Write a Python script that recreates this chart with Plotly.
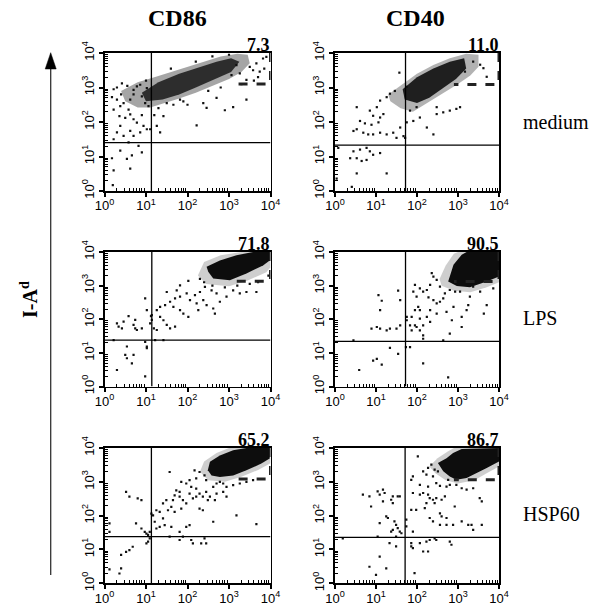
import plotly.graph_objects as go

# ---------------- data (log10 fluorescence units) ----------------
markers = ["CD86", "CD40"]
treatments = ["medium", "LPS", "HSP60"]
percent_labels = ["7.3", "11.0", "71.8", "90.5", "65.2", "86.7"]

# quadrant cut positions
quad_x_log = [1.13, 1.72, 1.14, 1.72, 1.13, 1.71]
quad_y_log = [1.40, 1.33, 1.38, 1.34, 1.38, 1.36]
# dashed gate (lower-left corner, upper-right is 10^4, 10^4)
gate_x_log = [3.16, 2.90, 3.15, 2.90, 3.15, 2.90]
gate_y_log = [3.10, 3.09, 3.13, 3.12, 3.08, 3.06]

tick_decades = [0, 1, 2, 3, 4]
tick_labels = ["10<sup>0</sup>", "10<sup>1</sup>", "10<sup>2</sup>", "10<sup>3</sup>", "10<sup>4</sup>"]

# dense-population outlines (halo = moderately dense, core = very dense)
halo_medium_cd86 = [(0.4, 2.9), (0.8, 3.15), (1.2, 3.3), (1.6, 3.45), (2.0, 3.6), (2.4, 3.75), (2.8, 3.9),
                    (3.2, 3.98), (3.45, 3.95), (3.5, 3.7), (3.3, 3.45), (3.0, 3.25), (2.6, 3.05), (2.2, 2.85),
                    (1.8, 2.68), (1.4, 2.52), (1.1, 2.42), (0.8, 2.42), (0.5, 2.6)]
core_medium_cd86 = [(0.9, 2.85), (1.3, 3.15), (1.8, 3.4), (2.3, 3.6), (2.7, 3.75), (3.05, 3.85), (3.25, 3.75),
                    (3.05, 3.45), (2.6, 3.2), (2.2, 3.0), (1.8, 2.8), (1.4, 2.65), (1.0, 2.6)]
halo_medium_cd40 = [(1.3, 2.8), (1.6, 3.05), (2.0, 3.4), (2.4, 3.65), (2.8, 3.85), (3.2, 3.98), (3.5, 3.95),
                    (3.5, 3.6), (3.3, 3.35), (3.0, 3.1), (2.6, 2.8), (2.2, 2.5), (1.9, 2.3), (1.6, 2.4),
                    (1.35, 2.6)]
core_medium_cd40 = [(1.65, 2.95), (2.0, 3.3), (2.4, 3.55), (2.8, 3.75), (3.15, 3.85), (3.2, 3.55), (2.95, 3.25),
                    (2.6, 2.95), (2.3, 2.7), (2.0, 2.55), (1.7, 2.65)]
halo_lps_cd86 = [(2.25, 3.3), (2.45, 3.05), (3.0, 2.98), (3.45, 3.15), (3.9, 3.4), (4.0, 3.55), (4.0, 4.0),
                 (3.3, 4.0), (2.8, 3.9), (2.4, 3.7)]
core_lps_cd86 = [(2.50, 3.41), (2.62, 3.21), (3.02, 3.16), (3.42, 3.36), (3.82, 3.60), (3.98, 3.75),
                 (3.98, 4.0), (3.58, 4.0), (3.18, 3.90), (2.78, 3.75), (2.46, 3.56)]
halo_lps_cd40 = [(2.55, 3.2), (2.7, 3.6), (2.9, 3.95), (3.0, 4.0), (4.0, 4.0), (4.0, 3.1), (3.7, 2.95),
                 (3.3, 2.8), (2.9, 2.85), (2.6, 3.0)]
core_lps_cd40 = [(2.80, 3.27), (2.89, 3.62), (3.09, 3.92), (3.21, 4.0), (4.0, 4.0), (4.0, 3.27), (3.70, 3.12),
                 (3.29, 2.95), (2.97, 2.99), (2.76, 3.12)]
halo_hsp_cd86 = [(2.3, 3.3), (2.4, 3.6), (2.7, 3.85), (3.0, 4.0), (4.0, 4.0), (4.0, 3.55), (3.7, 3.35),
                 (3.3, 3.15), (2.9, 3.0), (2.5, 3.05)]
core_hsp_cd86 = [(2.49, 3.34), (2.54, 3.59), (2.78, 3.78), (3.10, 3.93), (3.42, 4.0), (3.98, 4.0),
                 (3.98, 3.69), (3.78, 3.54), (3.42, 3.34), (3.10, 3.19), (2.78, 3.14), (2.58, 3.19)]
halo_hsp_cd40 = [(2.3, 3.45), (2.5, 3.7), (2.75, 3.9), (2.9, 4.0), (4.0, 4.0), (4.0, 3.45), (3.7, 3.25),
                 (3.4, 3.05), (3.0, 2.95), (2.7, 3.05), (2.45, 3.25)]
core_hsp_cd40 = [(2.51, 3.56), (2.72, 3.70), (2.88, 3.85), (3.09, 3.97), (4.0, 4.0), (4.0, 3.60), (3.70, 3.41),
                 (3.45, 3.26), (3.21, 3.11), (2.96, 3.06), (2.80, 3.16), (2.64, 3.31)]

# individual events outside the dense populations
dots_medium_cd86 = [
    (0.22, 2.95), (0.42, 3.12), (0.18, 2.72), (0.30, 2.65), (0.38, 2.46), (0.46, 2.55), (0.58, 2.36),
    (0.22, 2.36), (0.36, 2.17), (0.50, 2.12), (0.62, 2.22), (0.70, 2.08), (0.78, 1.98), (0.94, 1.89),
    (1.02, 1.79), (0.86, 1.70), (0.62, 1.74), (0.38, 1.89), (0.30, 1.70), (0.46, 1.60), (0.70, 1.60),
    (0.22, 1.50), (0.58, 1.41), (0.82, 1.31), (0.90, 1.12), (0.66, 1.03), (0.54, 0.93), (0.38, 1.17),
    (0.18, 0.95), (0.22, 0.60), (0.62, 0.65), (0.20, 0.17), (1.10, 1.79), (1.34, 1.70), (1.26, 1.89),
    (1.42, 2.17), (1.50, 2.55), (2.22, 1.90), (2.90, 2.34), (3.10, 2.43), (3.42, 2.65), (2.46, 2.41),
    (2.38, 2.55), (1.82, 2.65), (1.66, 2.50), (3.50, 3.60), (3.58, 3.50), (3.74, 3.46), (3.82, 3.84),
    (3.90, 3.89), (3.66, 3.70), (3.26, 3.41), (3.06, 3.36), (3.18, 3.65), (3.42, 3.22), (0.62, 2.65),
    (0.70, 2.93), (0.78, 3.03), (0.86, 3.08), (1.02, 2.98), (0.90, 2.74), (0.98, 2.55), (1.06, 2.46),
    (1.3, 2.4), (1.9, 2.6), (2.5, 2.9), (2.8, 3.0), (3.3, 3.1), (0.7, 2.8), (0.4, 2.8), (1.0, 3.2),
    (1.6, 3.55), (2.2, 3.75), (2.6, 3.9), (3.0, 3.95), (0.9, 2.2), (1.2, 2.2), (0.3, 3.0), (0.55, 3.05),
    (2.0, 2.5), (2.7, 2.7), (3.6, 3.2), (3.7, 3.3), (3.85, 3.55)]
dots_medium_cd40 = [
    (1.57, 3.43), (1.34, 2.82), (1.46, 2.90), (1.26, 2.72), (1.10, 2.62), (1.02, 2.43), (0.53, 2.43),
    (0.85, 2.33), (0.93, 2.18), (1.10, 2.13), (1.18, 2.23), (1.06, 1.99), (0.89, 1.92), (0.73, 1.96),
    (0.61, 2.03), (0.53, 1.79), (0.45, 1.74), (0.69, 1.69), (0.81, 1.64), (0.93, 1.64), (1.10, 1.69),
    (1.26, 1.64), (1.42, 1.69), (1.59, 1.84), (1.50, 1.54), (1.67, 1.59), (1.75, 1.99), (1.91, 2.03),
    (2.07, 2.13), (2.24, 1.84), (2.40, 1.64), (2.48, 2.23), (2.64, 2.28), (2.80, 2.33), (2.96, 2.38),
    (3.05, 2.43), (0.45, 1.15), (0.61, 1.20), (0.77, 1.25), (0.85, 1.15), (0.93, 1.05), (1.10, 1.10),
    (0.53, 0.95), (0.65, 0.87), (0.77, 0.90), (0.08, 1.25), (0.37, 0.95), (0.53, 0.51), (1.26, 0.51),
    (0.41, 0.12), (0.04, 0.36), (1.75, 3.02), (1.83, 2.33), (1.99, 2.43), (2.48, 2.43), (3.37, 3.75),
    (3.62, 3.56), (3.70, 3.31), (3.54, 3.66), (3.17, 3.46), (1.71, 1.54)]
dots_lps_cd86 = [
    (2.02, 3.14), (1.82, 3.01), (1.74, 2.86), (1.50, 2.81), (1.98, 2.77), (2.18, 2.72), (2.06, 2.57),
    (1.82, 2.67), (1.70, 2.62), (1.58, 2.52), (1.46, 2.42), (1.34, 2.37), (1.26, 2.27), (1.14, 2.12),
    (1.34, 2.07), (1.42, 1.97), (1.66, 2.37), (1.82, 2.27), (1.90, 2.17), (2.02, 2.07), (2.22, 2.47),
    (2.26, 2.27), (2.38, 2.57), (2.46, 2.42), (2.62, 2.32), (2.66, 2.17), (2.78, 2.52), (2.94, 2.67),
    (3.10, 2.86), (3.26, 2.77), (3.42, 2.81), (3.66, 2.81), (2.42, 2.96), (2.58, 2.86), (2.70, 2.77),
    (2.30, 2.81), (0.98, 2.62), (1.02, 2.27), (1.12, 2.09), (1.19, 1.73), (1.26, 1.68), (1.50, 1.83),
    (1.58, 1.73), (1.70, 1.78), (1.42, 1.38), (1.22, 1.38), (0.30, 1.88), (0.34, 1.78), (0.42, 1.73),
    (0.46, 1.93), (0.58, 2.09), (0.74, 1.98), (0.74, 1.73), (0.78, 1.68), (0.90, 1.73), (0.70, 1.83),
    (0.98, 1.33), (1.02, 1.19), (1.02, 1.14), (0.54, 1.19), (0.50, 0.94), (0.54, 0.84), (0.70, 0.94),
    (0.66, 0.69), (0.30, 0.49), (0.98, 0.30), (1.10, 1.88), (1.14, 1.98), (0.22, 1.38),
    (2.3, 3.2), (2.4, 3.1), (2.6, 3.0), (2.9, 2.95), (3.2, 3.0), (3.5, 3.05), (3.7, 3.1), (3.95, 3.3)]
dots_lps_cd40 = [
    (2.36, 3.37), (2.40, 3.27), (2.48, 3.17), (2.56, 2.97), (2.32, 3.02), (2.15, 2.82), (2.24, 2.87),
    (2.07, 2.92), (1.95, 3.02), (1.91, 2.82), (1.99, 2.67), (2.28, 2.65), (2.40, 2.57), (2.48, 2.47),
    (2.56, 2.52), (2.64, 2.62), (2.68, 2.77), (2.80, 2.87), (2.93, 2.82), (3.05, 2.82), (2.32, 2.27),
    (2.07, 2.27), (2.03, 2.37), (1.95, 2.27), (1.87, 2.07), (1.95, 1.82), (2.07, 2.02), (2.24, 2.07),
    (2.32, 1.92), (2.15, 1.82), (1.99, 1.77), (1.83, 1.82), (1.75, 1.97), (1.75, 2.07), (1.87, 1.67),
    (2.07, 1.67), (2.15, 1.52), (2.48, 2.17), (2.72, 2.22), (2.85, 1.97), (3.09, 2.07), (3.21, 2.27),
    (3.25, 2.42), (3.29, 2.67), (3.37, 2.97), (3.54, 2.82), (3.86, 2.92), (3.70, 2.42), (3.63, 2.17),
    (2.89, 2.37), (3.09, 1.77), (2.80, 1.57), (2.64, 1.37), (2.15, 1.42), (1.50, 1.72), (1.59, 1.82),
    (1.10, 1.72), (1.02, 1.77), (1.10, 2.27), (1.06, 2.72), (1.14, 2.55), (1.59, 2.57), (1.54, 2.85),
    (1.26, 1.67), (1.34, 1.72), (0.89, 1.72), (0.45, 1.37), (1.34, 1.15), (1.54, 0.97), (1.73, 1.17),
    (1.83, 1.17), (1.02, 0.82), (0.93, 0.77), (1.14, 0.65), (0.59, 0.49), (2.15, 0.69), (2.76, 0.27)]
dots_hsp_cd86 = [
    (1.57, 3.29), (2.17, 3.34), (2.29, 3.29), (2.41, 3.19), (2.45, 3.05), (2.21, 3.10), (2.05, 3.05),
    (1.97, 2.95), (1.85, 3.00), (2.09, 2.85), (2.21, 2.80), (2.29, 2.65), (2.45, 2.70), (2.62, 2.85),
    (2.70, 2.95), (2.78, 3.00), (2.86, 2.95), (2.94, 2.85), (3.10, 2.90), (3.26, 2.95), (3.42, 3.00),
    (3.58, 3.05), (2.86, 2.70), (2.70, 2.65), (2.54, 2.56), (2.37, 2.56), (2.21, 2.56), (2.13, 2.51),
    (2.05, 2.65), (1.81, 2.70), (1.73, 2.75), (1.69, 2.60), (1.81, 2.56), (1.89, 2.46), (1.65, 2.46),
    (1.49, 2.46), (1.41, 2.36), (1.61, 2.26), (1.53, 2.16), (1.69, 2.11), (1.85, 2.21), (1.97, 2.36),
    (2.29, 2.21), (2.37, 2.16), (2.49, 2.46), (2.66, 2.46), (2.94, 2.56), (3.18, 2.01), (3.66, 1.75),
    (2.62, 1.82), (1.97, 1.67), (2.05, 1.72), (1.61, 1.67), (1.45, 1.72), (1.33, 1.67), (1.25, 1.62),
    (1.21, 1.82), (1.17, 2.01), (1.13, 2.06), (1.25, 2.16), (1.33, 2.11), (1.41, 1.92), (0.52, 2.70),
    (0.60, 2.56), (0.80, 2.51), (0.89, 2.46), (0.12, 1.77), (0.76, 1.77), (0.89, 1.62), (0.97, 1.52),
    (1.01, 1.47), (1.05, 1.43), (1.09, 1.33), (1.05, 1.23), (1.01, 1.18), (1.57, 1.38), (1.81, 1.28),
    (1.89, 1.38), (2.09, 1.28), (2.13, 1.18), (2.33, 1.18), (2.41, 1.33), (2.45, 1.18), (0.68, 1.08),
    (0.60, 0.98), (0.52, 0.93), (0.40, 0.84), (0.12, 1.52), (0.40, 0.44), (0.36, 0.29), (0.12, 0.41),
    (1.09, 1.52), (1.81, 1.52)]
dots_hsp_cd40 = [
    (2.02, 3.75), (2.15, 3.31), (2.23, 3.21), (2.27, 3.41), (2.35, 3.51), (2.43, 3.36), (2.51, 3.31),
    (2.39, 3.16), (1.90, 3.16), (1.86, 3.06), (2.07, 2.91), (2.27, 2.86), (2.47, 2.96), (2.56, 2.88),
    (2.72, 2.86), (2.80, 2.91), (3.09, 2.81), (3.37, 2.81), (3.21, 2.77), (2.76, 3.06), (2.96, 2.91),
    (3.53, 2.52), (3.58, 2.42), (1.90, 2.67), (2.07, 2.62), (2.15, 2.67), (2.27, 2.62), (2.31, 2.52),
    (2.39, 2.47), (2.47, 2.52), (2.60, 2.47), (2.68, 2.57), (2.23, 2.37), (2.43, 2.37), (2.56, 2.07),
    (2.60, 1.98), (2.72, 1.93), (2.92, 2.27), (2.19, 2.22), (1.98, 2.17), (1.86, 2.17), (1.74, 1.88),
    (1.74, 1.68), (1.90, 1.53), (2.31, 1.93), (2.39, 1.83), (2.56, 1.73), (2.72, 1.73), (2.88, 1.73),
    (3.09, 1.83), (3.25, 1.73), (3.33, 1.73), (3.37, 1.58), (3.58, 1.73), (0.68, 2.62), (0.84, 2.57),
    (0.88, 2.27), (1.04, 2.72), (1.09, 2.62), (1.17, 2.77), (1.21, 2.67), (1.17, 2.42), (1.41, 2.57),
    (1.37, 2.47), (1.41, 2.37), (1.53, 2.57), (1.58, 2.57), (1.25, 1.98), (1.29, 1.93), (1.45, 1.83),
    (1.49, 1.73), (1.41, 1.58), (1.37, 1.53), (1.53, 1.63), (1.58, 1.53), (1.62, 1.48), (1.09, 1.78),
    (1.33, 1.19), (1.49, 1.09), (1.86, 1.19), (1.86, 1.09), (1.90, 1.04), (2.07, 1.19), (2.23, 1.23),
    (2.31, 1.28), (2.43, 1.33), (2.47, 1.28), (2.80, 1.23), (2.84, 1.14), (2.15, 0.94), (2.27, 0.94),
    (1.09, 0.79), (0.84, 0.49), (1.00, 0.25), (1.25, 0.44), (1.94, 0.30), (0.19, 1.33), (1.04, 1.38),
    (1.49, 1.38)]

panel_halos = [halo_medium_cd86, halo_medium_cd40, halo_lps_cd86, halo_lps_cd40, halo_hsp_cd86, halo_hsp_cd40]
panel_cores = [core_medium_cd86, core_medium_cd40, core_lps_cd86, core_lps_cd40, core_hsp_cd86, core_hsp_cd40]
panel_dots = [dots_medium_cd86, dots_medium_cd40, dots_lps_cd86, dots_lps_cd40, dots_hsp_cd86, dots_hsp_cd40]
halo_colors = ["rgba(30,30,30,0.40)", "rgba(30,30,30,0.34)", "rgba(30,30,30,0.22)",
               "rgba(30,30,30,0.22)", "rgba(30,30,30,0.22)", "rgba(30,30,30,0.22)"]
core_colors = ["rgba(15,15,15,0.80)", "rgba(10,10,10,0.88)", "rgba(5,5,5,0.96)",
               "rgba(5,5,5,0.96)", "rgba(5,5,5,0.96)", "rgba(5,5,5,0.96)"]

# ---------------- figure ----------------
W, H = 601, 608
col_px = [(104.5, 270.5), (335.0, 499.0)]
row_px = [(53.0, 191.0), (252.0, 386.5), (448.0, 583.3)]

SERIF = "Liberation Serif, Times New Roman, serif"
TICKFONT = dict(family="Liberation Sans Narrow, Arial Narrow, Liberation Sans, Arial, sans-serif",
                size=13, color="black")

def dec(v):
    return 10 ** v

fig = go.Figure()
layout = dict(width=W, height=H, margin=dict(l=0, r=0, t=0, b=0, autoexpand=False),
              paper_bgcolor="white", plot_bgcolor="white", showlegend=False)

minor_vals = [m * 10 ** d for d in range(4) for m in range(2, 10)]
annotations = []

for i in range(6):
    r, c = divmod(i, 2)
    n = i + 1
    xa, ya = ("x" if n == 1 else f"x{n}"), ("y" if n == 1 else f"y{n}")
    x0p, x1p = col_px[c]
    y0p, y1p = row_px[r]
    common = dict(type="log", range=[0, 4], showgrid=False, zeroline=False,
                  showline=True, linecolor="black", linewidth=1.6, mirror=True,
                  tickmode="array", tickvals=[dec(v) for v in tick_decades], ticktext=tick_labels,
                  ticks="outside", ticklen=4, tickwidth=2, tickcolor="black", tickfont=TICKFONT,
                  minor=dict(tickmode="array", tickvals=minor_vals, ticks="inside", ticklen=3,
                             tickwidth=1, tickcolor="black"))
    layout[f"xaxis{n}"] = dict(common, domain=[x0p / W, x1p / W], anchor=ya, ticklabelstandoff=-2)
    layout[f"yaxis{n}"] = dict(common, domain=[1 - y1p / H, 1 - y0p / H], anchor=xa, tickangle=-90)

    halo = panel_halos[i]
    core = panel_cores[i]
    dots = panel_dots[i]
    fig.add_trace(go.Scatter(x=[dec(p[0]) for p in halo], y=[dec(p[1]) for p in halo], xaxis=xa, yaxis=ya,
                             mode="lines", fill="toself", line=dict(width=0),
                             fillcolor=halo_colors[i], hoverinfo="skip"))
    fig.add_trace(go.Scatter(x=[dec(p[0]) for p in core], y=[dec(p[1]) for p in core], xaxis=xa, yaxis=ya,
                             mode="lines", fill="toself", line=dict(width=0),
                             fillcolor=core_colors[i], hoverinfo="skip"))
    fig.add_trace(go.Scatter(x=[dec(p[0]) for p in dots], y=[dec(p[1]) for p in dots], xaxis=xa, yaxis=ya,
                             mode="markers", marker=dict(size=2.2, symbol="square", color="#111"),
                             hoverinfo="skip"))
    # quadrant lines
    fig.add_trace(go.Scatter(x=[dec(quad_x_log[i])] * 2, y=[dec(0), dec(4)], xaxis=xa, yaxis=ya,
                             mode="lines", line=dict(color="black", width=1.3), hoverinfo="skip"))
    fig.add_trace(go.Scatter(x=[dec(0), dec(4)], y=[dec(quad_y_log[i])] * 2, xaxis=xa, yaxis=ya,
                             mode="lines", line=dict(color="black", width=1.3), hoverinfo="skip"))
    # dashed gate
    fig.add_trace(go.Scatter(x=[dec(4), dec(4), dec(gate_x_log[i])],
                             y=[dec(4), dec(gate_y_log[i]), dec(gate_y_log[i])], xaxis=xa, yaxis=ya,
                             mode="lines", line=dict(color="#222", width=3, dash="dash"), hoverinfo="skip"))
    annotations.append(dict(text=f"<b>{percent_labels[i]}</b>", xref=f"{xa} domain", yref=f"{ya} domain",
                            x=1.01, y=1.0, xanchor="right", yanchor="bottom", yshift=-4, showarrow=False,
                            font=dict(family=SERIF, size=18, color="black")))

for c, name in enumerate(markers):
    annotations.append(dict(text=f"<b>{name}</b>", xref="paper", yref="paper",
                            x=[177.5, 415.0][c] / W, y=1 - 17.5 / H, showarrow=False,
                            xanchor="center", yanchor="middle",
                            font=dict(family=SERIF, size=24, color="black")))
for r, name in enumerate(treatments):
    annotations.append(dict(text=name, xref="paper", yref="paper", x=521 / W,
                            y=1 - [122.0, 317.5, 514.0][r] / H, showarrow=False,
                            xanchor="left", yanchor="middle",
                            font=dict(family=SERIF, size=20, color="black")))
annotations.append(dict(text="<b>I-A<sup>d</sup></b>", xref="paper", yref="paper", x=29 / W, y=1 - 300 / H,
                        showarrow=False, textangle=-90, xanchor="center", yanchor="middle",
                        font=dict(family=SERIF, size=20, color="black")))

layout["annotations"] = annotations
layout["shapes"] = [
    dict(type="line", xref="paper", yref="paper", x0=50.7 / W, x1=50.7 / W, y0=1 - 575 / H, y1=1 - 66 / H,
         line=dict(color="#333", width=1.3)),
    dict(type="path", xref="paper", yref="paper",
         path=f"M {45.2 / W} {1 - 69 / H} L {56.2 / W} {1 - 69 / H} L {50.7 / W} {1 - 52.7 / H} Z",
         fillcolor="black", line=dict(color="black", width=0.5)),
]
fig.update_layout(**layout)

pin_to_corner = (
    "document.documentElement.style.margin='0';"
    "document.body.style.margin='0';document.body.style.padding='0';"
    "document.body.style.overflow='hidden';"
    "var gd=document.getElementById('{plot_id}');"
    "gd.style.position='fixed';gd.style.left='0px';gd.style.top='0px';"
)
fig.write_html("out.html", post_script=pin_to_corner,
               config={"displayModeBar": False, "staticPlot": True})
